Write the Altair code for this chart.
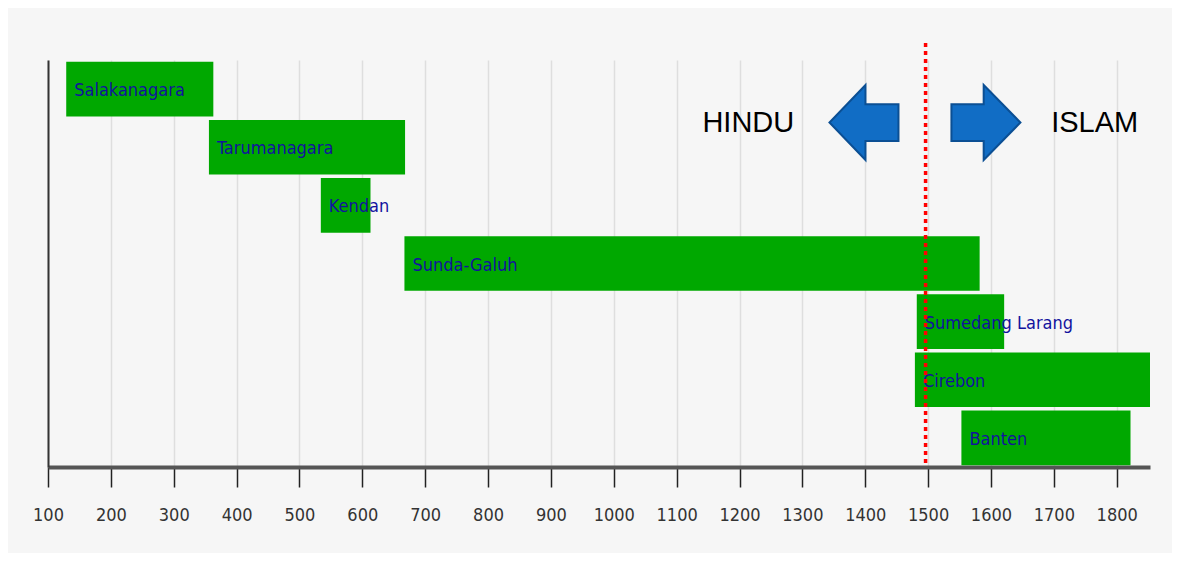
import altair as alt
import pandas as pd

kingdoms = ["Salakanagara", "Tarumanagara", "Kendan", "Sunda-Galuh",
            "Sumedang Larang", "Cirebon", "Banten"]
start_year = [129, 356, 534, 667, 1482, 1479, 1553]
end_year = [363, 668, 613, 1582, 1621, 1853, 1822]

tick_values = list(range(100, 1900, 100))
divide_year = [1496]
arrow_x = [1398, 1592]
arrow_dir = ["left", "right"]
note_x = [1214, 1765]
note_text = ["HINDU", "ISLAM"]

df = pd.DataFrame({"k": kingdoms, "s": start_year, "e": end_year})
xdom = [100, 1853]
NARROW = "Liberation Sans Narrow, DejaVu Sans Condensed, sans-serif"

x_enc = alt.X("s:Q", scale=alt.Scale(domain=xdom, nice=False, zero=False),
              axis=alt.Axis(values=tick_values, title=None, grid=True, format="d",
                            gridColor="#dedede", gridWidth=1.5,
                            domainColor="#555555", domainWidth=4,
                            tickColor="#222222", tickWidth=1.5, tickSize=20,
                            labelFont=NARROW, labelFlush=False, labelOverlap=False,
                            labelFontSize=18, labelColor="#333333",
                            labelPadding=19))
y_enc = alt.Y("k:N", sort=kingdoms,
              scale=alt.Scale(paddingInner=0.06, paddingOuter=0.03),
              axis=alt.Axis(title=None, labels=False, ticks=False, grid=False,
                            domainColor="#333333", domainWidth=2))

bars = alt.Chart(df).mark_bar(color="#00a800").encode(
    x=x_enc, x2="e:Q", y=y_enc)

labels = alt.Chart(df).mark_text(
    align="left", baseline="middle", dx=8, dy=2, font=NARROW,
    fontSize=18, color="#12129e").encode(
    x="s:Q", y=alt.Y("k:N", sort=kingdoms), text="k:N")

rule = alt.Chart(pd.DataFrame({"x": divide_year})).mark_rule(
    color="#ff0000", strokeWidth=3.5, strokeDash=[4, 4]).encode(
    x="x:Q", y=alt.value(-17), y2=alt.value(407))

left_path = "M0.92,-0.49 L0.04,-0.49 L0.04,-1 L-0.92,0 L0.04,1 L0.04,0.49 L0.92,0.49 Z"
right_path = "M-0.92,-0.49 L-0.06,-0.49 L-0.06,-1 L0.92,0 L-0.06,1 L-0.06,0.49 L-0.92,0.49 Z"
paths = {"left": left_path, "right": right_path}

arrows = []
for ax, d in zip(arrow_x, arrow_dir):
    arrows.append(
        alt.Chart(pd.DataFrame({"x": [ax]})).mark_point(
            shape=paths[d], filled=True, fill="#116dc5", stroke="#0b4f94",
            strokeWidth=2, opacity=1, size=5625).encode(
            x="x:Q", y=alt.value(62.5)))

notes = alt.Chart(pd.DataFrame({"x": note_x, "t": note_text})).mark_text(
    font="Liberation Sans", fontSize=29, color="#000000",
    align="center", baseline="middle").encode(
    x="x:Q", y=alt.value(63), text="t:N")

chart = alt.layer(bars, labels, *arrows, notes, rule).properties(
    width=1102, height=407,
    autosize=alt.AutoSizeParams(type="none"),
    padding={"left": 40, "top": 52, "right": 22, "bottom": 86},
    background="#f6f6f6",
).configure_view(stroke=None)

chart.save("out.html", embed_options={"renderer": "svg", "actions": False})
